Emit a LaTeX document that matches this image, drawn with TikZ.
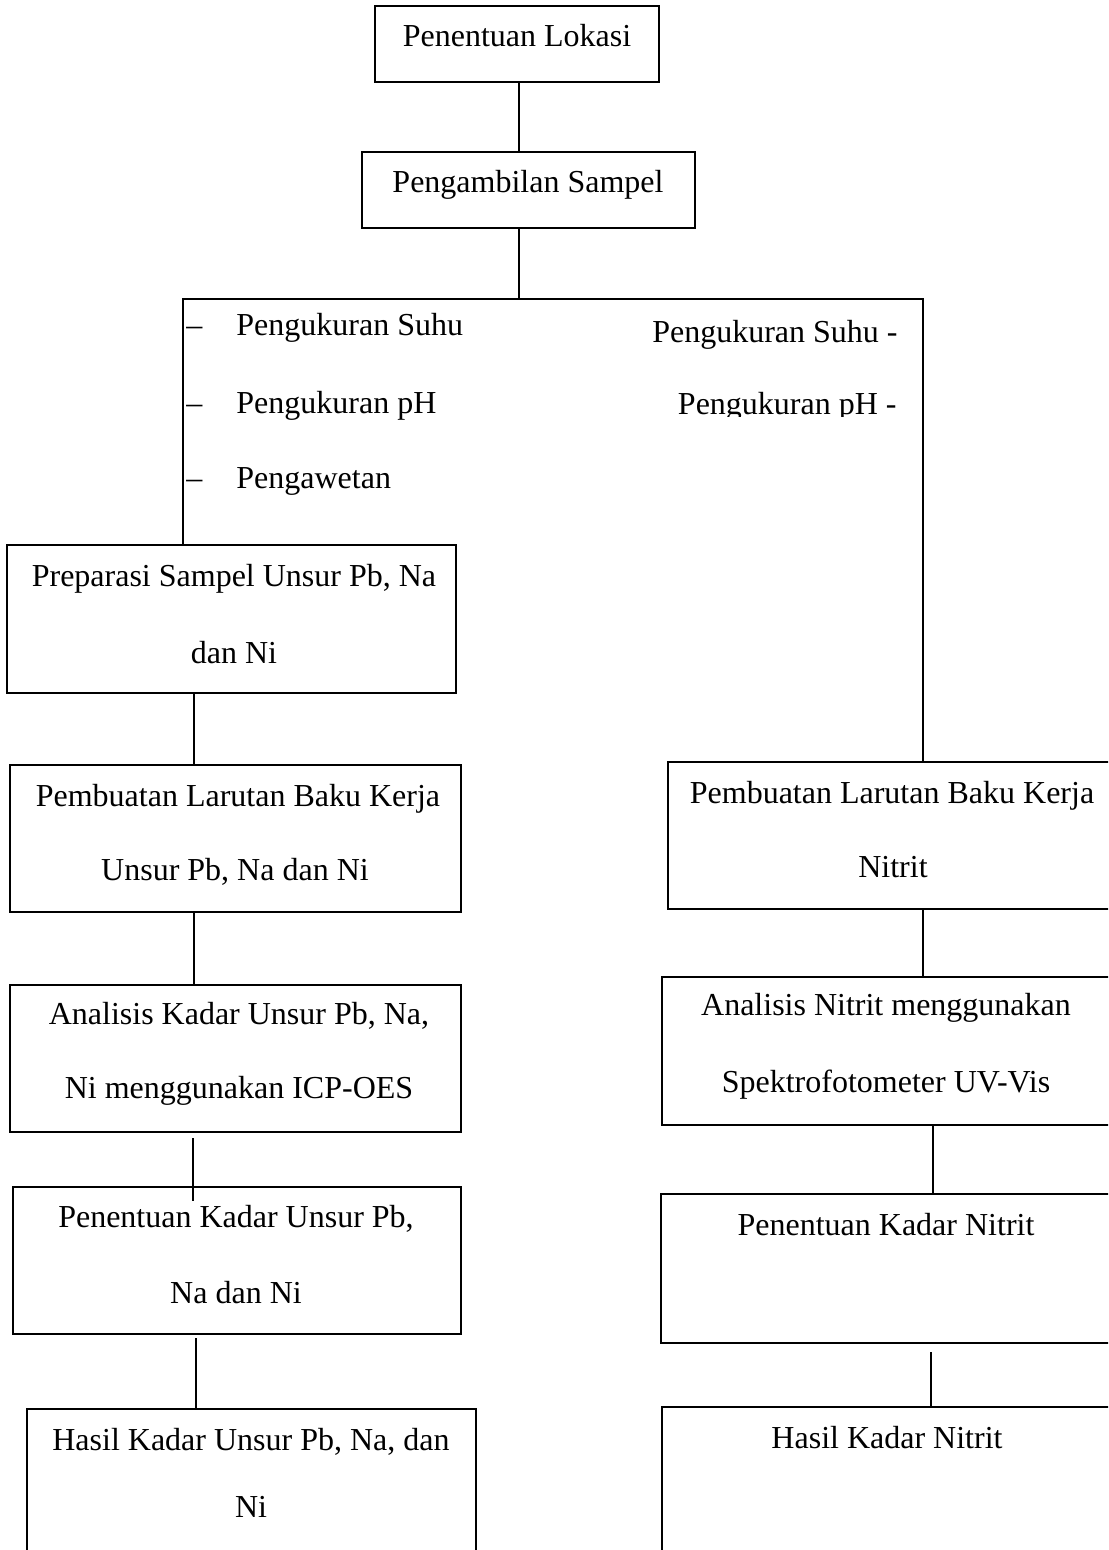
\documentclass[tikz,border=0pt]{standalone}
\usepackage{fontspec}
\setmainfont{Liberation Serif}
\usetikzlibrary{calc}
\begin{document}
\begin{tikzpicture}[x=0.5pt,y=-0.5pt,
  box/.style={draw,line width=1pt,inner sep=0pt},
  conn/.style={line width=0.8pt},
  txt/.style={inner sep=0pt,anchor=base,font=\fontsize{16}{19}\selectfont}]
\useasboundingbox (0,0) rectangle (1108,1550);
\clip (0,0) rectangle (1108,1550);
% boxes
\node[box,minimum width=142pt,minimum height=38pt] (n1) at (517,44) {};
\node[box,minimum width=166.5pt,minimum height=38pt] (n2) at (528.5,190) {};
\node[box,minimum width=224.5pt,minimum height=74pt] (prepL) at (231.5,619) {};
\node[box,minimum width=225.5pt,minimum height=73.5pt] (bakuL) at (235.5,838.5) {};
\node[box,minimum width=225.5pt,minimum height=73.5pt] (anaL) at (235.5,1058.5) {};
\node[box,minimum width=224pt,minimum height=73.5pt] (detL) at (237,1260.5) {};
\node[box,minimum width=224.5pt,minimum height=75.5pt] (hasL) at (251.5,1484.5) {};
\node[box,minimum width=224pt,minimum height=73.5pt] (bakuR) at (892,835.5) {};
\node[box,minimum width=224pt,minimum height=74pt] (anaR) at (886,1051) {};
\node[box,minimum width=225pt,minimum height=74.5pt] (detR) at (886,1268.5) {};
\node[box,minimum width=225pt,minimum height=78pt] (hasR) at (887,1485) {};
% texts
\node[txt] (t1) at (517,47) {Penentuan Lokasi};
\node[txt] (t2) at (528,193) {Pengambilan Sampel};
\node[txt,anchor=base west] (d1) at (186,336) {–};
\node[txt,anchor=base west] (l1) at (236,336) {Pengukuran Suhu};
\node[txt,anchor=base west] (d2) at (186,414) {–};
\node[txt,anchor=base west] (l2) at (236,414) {Pengukuran pH};
\node[txt,anchor=base west] (d3) at (186,488) {–};
\node[txt,anchor=base west] (l3) at (236,488) {Pengawetan};
\node[txt,anchor=base east] (r1) at (898,343) {Pengukuran Suhu -};
\begin{scope}
\clip (600,380) rectangle (915,417);
\node[txt,anchor=base east] (r2) at (897,415) {Pengukuran pH -};
\end{scope}
\node[txt] (pa) at (234,586) {Preparasi Sampel Unsur Pb, Na};
\node[txt] (pb) at (234,663) {dan Ni};
\node[txt] (ba) at (238,806) {Pembuatan Larutan Baku Kerja};
\node[txt] (bb) at (235,880) {Unsur Pb, Na dan Ni};
\node[txt] (aa) at (239,1024) {Analisis Kadar Unsur Pb, Na,};
\node[txt] (ab) at (239,1098) {Ni menggunakan ICP-OES};
\node[txt] (da) at (236,1227) {Penentuan Kadar Unsur Pb,};
\node[txt] (db) at (236,1303) {Na dan Ni};
\node[txt] (ha) at (251,1450) {Hasil Kadar Unsur Pb, Na, dan};
\node[txt] (hb) at (251,1517) {Ni};
\node[txt] (bra) at (892,803) {Pembuatan Larutan Baku Kerja};
\node[txt] (brb) at (893,877) {Nitrit};
\node[txt] (ara) at (886,1015) {Analisis Nitrit menggunakan};
\node[txt] (arb) at (886,1092) {Spektrofotometer UV-Vis};
\node[txt] (dra) at (886,1235) {Penentuan Kadar Nitrit};
\node[txt] (hra) at (887,1448) {Hasil Kadar Nitrit};
% connectors
\coordinate (jL) at (183,299);
\coordinate (jR) at (923,299);
\coordinate (jM) at (519,299);
\coordinate (xL1) at (194,0);
\coordinate (xL2) at (193,0);
\coordinate (xL3) at (196,0);
\coordinate (xR2) at (933,0);
\coordinate (xR3) at (931,0);
\draw[conn] (n1.south -| jM) -- (n2.north -| jM);
\draw[conn] (n2.south -| jM) -- (jM);
\draw[conn] (prepL.north -| jL) -- (jL) -- (jR) -- (bakuR.north -| jR);
\draw[conn] (prepL.south -| xL1) -- (bakuL.north -| xL1);
\draw[conn] (bakuL.south -| xL1) -- (anaL.north -| xL1);
\draw[conn] ($(anaL.south -| xL2)+(0,5)$) -- ($(detL.north -| xL2)+(0,15)$);
\draw[conn] ($(detL.south -| xL3)+(0,3)$) -- (hasL.north -| xL3);
\draw[conn] (bakuR.south -| jR) -- (anaR.north -| jR);
\draw[conn] (anaR.south -| xR2) -- (detR.north -| xR2);
\draw[conn] ($(detR.south -| xR3)+(0,8)$) -- (hasR.north -| xR3);
\end{tikzpicture}
\end{document}
